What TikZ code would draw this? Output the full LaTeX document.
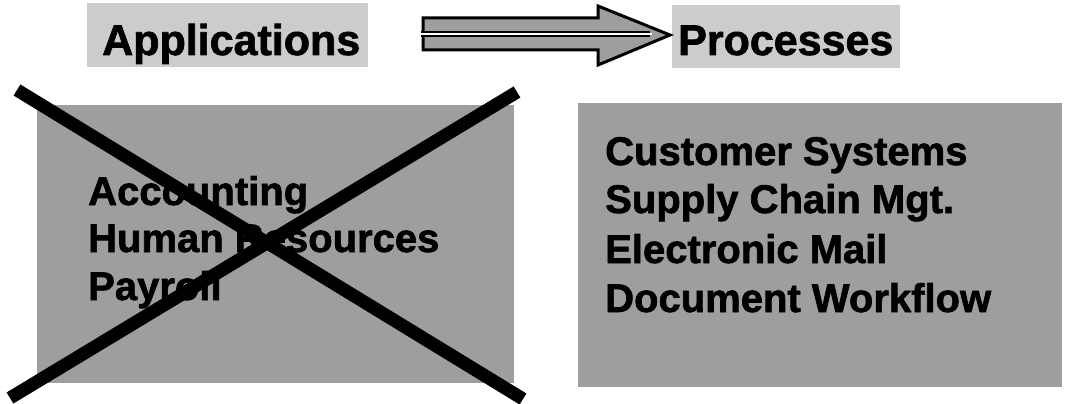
\documentclass[tikz,border=0pt]{standalone}
\usepackage{fontspec}
\setmainfont{Liberation Sans}[BoldFeatures={FakeBold=1.6}]
\begin{document}
\begin{tikzpicture}[x=1pt,y=-1pt,
  titlebox/.style={rectangle, fill=black!20, draw=none, inner sep=0pt},
  mainbox/.style={rectangle, fill=black!38, draw=none, inner sep=0pt},
  titletext/.style={anchor=base west, inner sep=0pt, font=\bfseries\fontsize{43}{50}\selectfont},
  itemtext/.style={anchor=base west, inner sep=0pt, font=\bfseries\fontsize{40}{48}\selectfont},
  crossline/.style={line width=13pt, black}
]
\useasboundingbox (0,0) rectangle (1069,404);
% title boxes
\node[titlebox, minimum width=281pt, minimum height=64pt] (appbox) at (227.5,35) {};
\node[titlebox, minimum width=228pt, minimum height=63pt] (procbox) at (786,36.5) {};
\node[titletext] (apptitle) at (102,55) {Applications};
\node[titletext] (proctitle) at (678,55) {Processes};
% arrow
\fill[black!38] (423,18) -- (598,18) -- (598,6) -- (670,35) -- (598,65) -- (598,50) -- (423,50) -- cycle;
\draw[line width=6pt, black] (421,34) -- (650,34);
\draw[line width=3pt, black, line join=miter] (423,18) -- (598,18) -- (598,6) -- (670,35) -- (598,65) -- (598,50) -- (423,50) -- cycle;
\draw[line width=2.5pt, white] (419,34) -- (652,34);
% main boxes
\node[mainbox, minimum width=477pt, minimum height=278pt] (leftbox) at (275.5,244) {};
\node[mainbox, minimum width=484pt, minimum height=284pt] (rightbox) at (820,245) {};
% left box text
\node[itemtext] (acc) at (88,205) {Accounting};
\node[itemtext] (hr) at (88,252) {Human Resources};
\node[itemtext] (pay) at (88,300) {Payroll};
% right box text
\node[itemtext] (cs) at (605,165) {Customer Systems};
\node[itemtext] (scm) at (605,213) {Supply Chain Mgt.};
\node[itemtext] (em) at (605,263) {Electronic Mail};
\node[itemtext] (dw) at (605,312) {Document Workflow};
% cross
\coordinate (c1a) at (17,90);
\coordinate (c1b) at (523,399);
\coordinate (c2a) at (517,92);
\coordinate (c2b) at (10,398);
\draw[crossline] (c1a) -- (c1b);
\draw[crossline] (c2a) -- (c2b);
\end{tikzpicture}
\end{document}
